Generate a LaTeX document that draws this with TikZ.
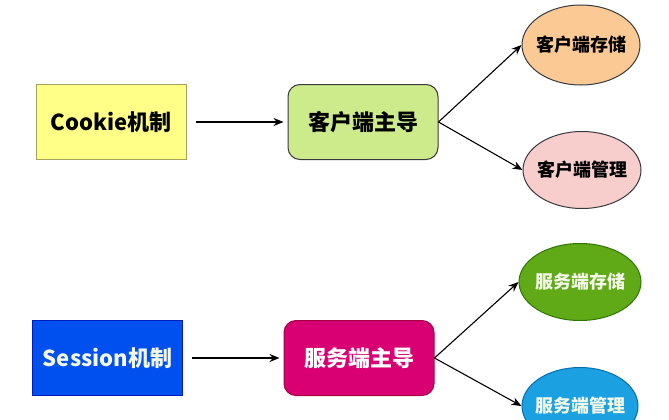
\documentclass[tikz,border=0pt]{standalone}
\usepackage{fontspec}
\setmainfont{Noto Sans CJK SC}
\usetikzlibrary{arrows.meta,shapes.geometric}
\definecolor{ckfill}{HTML}{FFFF88}
\definecolor{ckline}{HTML}{A3A35C}
\definecolor{clfill}{HTML}{CDEB8B}
\definecolor{dgray}{HTML}{36393D}
\definecolor{orfill}{HTML}{FBC994}
\definecolor{pkfill}{HTML}{F8CECC}
\definecolor{ssfill}{HTML}{0050EF}
\definecolor{ssline}{HTML}{001DBC}
\definecolor{svfill}{HTML}{D80073}
\definecolor{svline}{HTML}{A50040}
\definecolor{gnfill}{HTML}{60A917}
\definecolor{gnline}{HTML}{2D7600}
\definecolor{blfill}{HTML}{1BA1E2}
\definecolor{blline}{HTML}{006EAF}
\definecolor{pale}{HTML}{F2F7E6}

\begin{document}
\begin{tikzpicture}[x=1pt,y=-1pt,
  mech/.style={draw,line width=1pt,minimum width=150pt,minimum height=75pt,font=\bfseries\fontsize{22}{26}\selectfont},
  lead/.style={mech,rounded corners=12pt},
  leaf/.style={ellipse,draw,line width=1pt,inner sep=-10pt,minimum width=118pt,minimum height=77pt,font=\bfseries\fontsize{18}{21}\selectfont},
  link/.style={line width=1.1pt,-{Stealth[length=10pt,width=8pt]}}]
\useasboundingbox (0,0) rectangle (669,420);
% cookie
\node[mech,fill=ckfill,draw=ckline] (cookie) at (111,122) {Cookie机制};
\node[lead,fill=clfill,draw=dgray] (client) at (363,122) {客户端主导};
\node[leaf,fill=orfill,draw=dgray,minimum height=80pt] (cstore) at (581,45) {客户端存储};
\node[leaf,fill=pkfill,draw=dgray] (cmanage) at (582,170) {客户端管理};
% session
\node[mech,fill=ssfill,draw=ssline,text=pale] (session) at (107.5,358) {Session机制};
\node[lead,fill=svfill,draw=svline,text=white] (server) at (359,358) {服务端主导};
\node[leaf,fill=gnfill,draw=gnline,text=pale,minimum width=122pt] (sstore) at (580,282) {服务端存储};
\node[leaf,fill=blfill,draw=blline,text=pale,minimum width=116pt] (smanage) at (580,406) {服务端管理};
\draw[link,shorten <=9pt,shorten >=4pt] (cookie) -- (client);
\draw[link] (client.east) -- (cstore.west);
\draw[link] (client.east) -- (cmanage.west);
\draw[link,shorten <=9pt,shorten >=4pt] (session) -- (server);
\draw[link] (server.east) -- (sstore.west);
\draw[link] (server.east) -- (smanage.west);
\end{tikzpicture}
\end{document}
